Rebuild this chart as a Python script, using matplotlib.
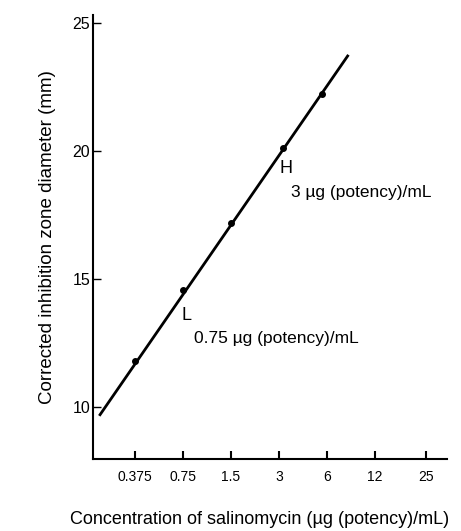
import matplotlib
matplotlib.use("Agg")
import matplotlib.pyplot as plt

plt.rcParams['font.family'] = ['Liberation Sans', 'DejaVu Sans']

# data
conc = [0.375, 0.75, 1.5, 3.2, 5.6]
zone = [11.8, 14.55, 17.2, 20.1, 22.2]
line_x = [0.227, 8.1]
line_y = [9.7, 23.7]
xticks = [0.375, 0.75, 1.5, 3, 6, 12, 25]
xtick_labels = ['0.375', '0.75', '1.5', '3', '6', '12', '25']
yticks = [10, 15, 20, 25]

fig = plt.figure(figsize=(4.61, 5.31), dpi=100)
ax = fig.add_axes([93/461, 1 - 459/531, (447-93)/461, (459-15)/531])

ax.plot(line_x, line_y, color='black', lw=2)
ax.plot(conc, zone, 'o', color='black', ms=4)

ax.set_xscale('log')
ax.set_xlim(0.205, 34)
ax.set_ylim(7.97, 25.3)
ax.set_xticks(xticks)
ax.set_xticklabels(xtick_labels, fontsize=10, stretch='condensed')
ax.minorticks_off()
ax.set_yticks(yticks)
ax.set_yticklabels([str(t) for t in yticks], fontsize=11.5)
ax.tick_params(axis='x', direction='in', length=6, width=1.5, pad=8)
ax.tick_params(axis='y', direction='in', length=6, width=1, pad=2)

for s in ['top', 'right']:
    ax.spines[s].set_visible(False)
for s in ['left', 'bottom']:
    ax.spines[s].set_linewidth(1.5)

ax.text(3.05, 19.15, 'H', fontsize=13)
ax.text(3.6, 18.2, '3 µg (potency)/mL', fontsize=12.5)
ax.text(0.74, 13.4, 'L', fontsize=13)
ax.text(0.88, 12.5, '0.75 µg (potency)/mL', fontsize=12.5)

ax.set_ylabel('Corrected inhibition zone diameter (mm)', fontsize=13.5, labelpad=12)
fig.text(70/461, 1 - 524/531, 'Concentration of salinomycin (µg (potency)/mL)',
         fontsize=13, va='baseline')

fig.savefig('out.png', dpi=100)
